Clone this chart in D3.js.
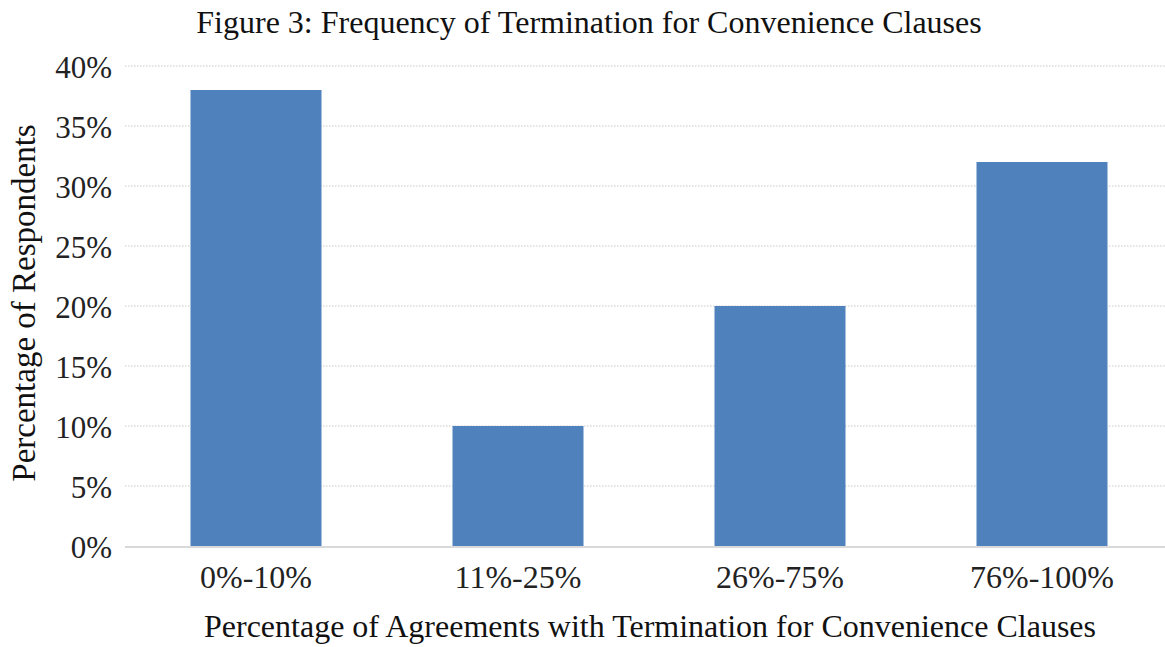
<!DOCTYPE html>
<html>
<head>
<meta charset="utf-8">
<script src="https://cdn.jsdelivr.net/npm/d3@7"></script>
<style>
  body { margin: 0; background: #fff; }
  svg { display: block; font-family: "Liberation Serif", "Times New Roman", serif; }
</style>
</head>
<body>
<div id="chart"></div>
<script>
// Chart data
const categories = ["0%-10%", "11%-25%", "26%-75%", "76%-100%"];
const values = [38, 10, 20, 32];
const yTicks = [0, 5, 10, 15, 20, 25, 30, 35, 40];

const width = 1165;
const height = 647;
const margin = { top: 66, right: -8, bottom: 101, left: 125 };
const fontSize = 32;

const svg = d3.select("#chart").append("svg")
  .attr("width", width)
  .attr("height", height);

const x = d3.scaleBand()
  .domain(categories)
  .range([margin.left, width - margin.right])
  .paddingInner(0.5)
  .paddingOuter(0.25);

const y = d3.scaleLinear()
  .domain([0, 40])
  .range([height - margin.bottom, margin.top]);

// Gridlines
svg.append("g")
  .selectAll("line")
  .data(yTicks.filter(d => d > 0))
  .join("line")
  .attr("x1", margin.left)
  .attr("x2", width)
  .attr("y1", d => y(d))
  .attr("y2", d => y(d))
  .attr("stroke", "#c8c8c8")
  .attr("stroke-width", 1)
  .attr("stroke-dasharray", "1.5,1.5");

// Y axis labels
const yAxis = svg.append("g")
  .attr("transform", `translate(${margin.left},0)`)
  .call(d3.axisLeft(y).tickValues(yTicks).tickFormat(d => d + "%").tickSize(0).tickPadding(13));
yAxis.select(".domain").remove();
yAxis.selectAll("text")
  .attr("font-family", "Liberation Serif, serif")
  .attr("font-size", 31)
  .attr("dy", "0.38em")
  .attr("fill", "#222");

// Bars
svg.append("g")
  .selectAll("rect")
  .data(values)
  .join("rect")
  .attr("x", (d, i) => x(categories[i]))
  .attr("y", d => y(d))
  .attr("width", x.bandwidth())
  .attr("height", d => y(0) - y(d))
  .attr("fill", "#4f81bd");

// Baseline
svg.append("line")
  .attr("x1", margin.left)
  .attr("x2", width)
  .attr("y1", y(0) + 1)
  .attr("y2", y(0) + 1)
  .attr("stroke", "#d9d9d9")
  .attr("stroke-width", 2);

// X axis labels
const xAxis = svg.append("g")
  .attr("transform", `translate(0,${y(0)})`)
  .call(d3.axisBottom(x).tickSize(0).tickPadding(0));
xAxis.select(".domain").remove();
xAxis.selectAll("text")
  .attr("font-family", "Liberation Serif, serif")
  .attr("font-size", fontSize)
  .attr("dy", null)
  .attr("y", 42)
  .attr("fill", "#222");

// Title
svg.append("text")
  .attr("x", 589)
  .attr("y", 33)
  .attr("text-anchor", "middle")
  .attr("font-size", fontSize)
  .attr("fill", "#111")
  .text("Figure 3: Frequency of Termination for Convenience Clauses");

// Axis titles
svg.append("text")
  .attr("x", 650)
  .attr("y", 637)
  .attr("text-anchor", "middle")
  .attr("font-size", fontSize)
  .attr("fill", "#111")
  .text("Percentage of Agreements with Termination for Convenience Clauses");

svg.append("text")
  .attr("transform", `translate(35,303) rotate(-90)`)
  .attr("text-anchor", "middle")
  .attr("font-size", 33)
  .attr("fill", "#111")
  .text("Percentage of Respondents");
</script>
</body>
</html>
